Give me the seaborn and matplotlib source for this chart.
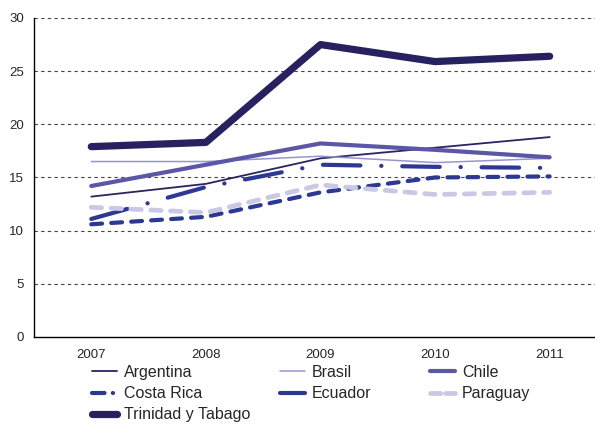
import pandas as pd
import numpy as np
import matplotlib
matplotlib.use("Agg")
import matplotlib.pyplot as plt
import seaborn as sns
from matplotlib.lines import Line2D

# data
years = [2007, 2008, 2009, 2010, 2011]
argentina = [13.2, 14.4, 16.8, 17.8, 18.8]
brasil = [16.5, 16.5, 17.0, 16.4, 16.8]
chile = [14.2, 16.2, 18.2, 17.6, 16.9]
costa_rica = [11.1, 14.1, 16.2, 16.0, 15.9]
ecuador = [10.6, 11.3, 13.6, 15.0, 15.1]
paraguay = [12.2, 11.7, 14.3, 13.4, 13.6]
trinidad = [17.9, 18.3, 27.5, 25.9, 26.4]

series = {
    "Argentina": argentina,
    "Brasil": brasil,
    "Chile": chile,
    "Costa Rica": costa_rica,
    "Ecuador": ecuador,
    "Paraguay": paraguay,
    "Trinidad y Tabago": trinidad,
}
rows = [(c, y, v) for c, vals in series.items() for y, v in zip(years, vals)]
df = pd.DataFrame(rows, columns=["country", "year", "value"])

styles = {
    "Argentina": dict(color="#2a2462", lw=1.3, ls="-"),
    "Brasil": dict(color="#9995cf", lw=1.1, ls="-"),
    "Chile": dict(color="#5b56a5", lw=3.0, ls="-"),
    "Costa Rica": dict(color="#2c3892", lw=3.0, ls=(0, (9, 5, 0.05, 5))),
    "Ecuador": dict(color="#2c3892", lw=3.0, ls=(0, (2.6, 2.2))),
    "Paraguay": dict(color="#cac8e4", lw=3.4, ls=(0, (2.2, 2.0))),
    "Trinidad y Tabago": dict(color="#27215f", lw=5.2, ls="-"),
}

sns.set_style("white")
plt.rcParams["font.family"] = ["Liberation Sans", "DejaVu Sans"]

fig = plt.figure(figsize=(5.95, 4.24), dpi=100)
ax = fig.add_axes([0.0571, 0.2052, 0.963, 0.7524])

for c in series:
    s = styles[c]
    sns.lineplot(data=df[df["country"] == c], x="year", y="value", ax=ax,
                 color=s["color"], linewidth=s["lw"], linestyle=s["ls"],
                 solid_capstyle="round", dash_capstyle="round",
                 errorbar=None, legend=False)

ax.set_xlim(2006.5, 2011.5)
ax.set_ylim(0, 30)
ax.set_yticks(range(0, 31, 5))
ax.set_xticks(years)
ax.set_xticks(np.arange(2007.5, 2011.5, 1.0), minor=True)
ax.tick_params(axis="x", which="major", length=0, labelsize=9.5, pad=9)
ax.tick_params(axis="x", which="minor", length=4, width=0.8, color="black", direction="out")
ax.tick_params(axis="y", length=4, width=0.8, color="black", direction="out", labelsize=9.5, pad=3)
ax.set_xlabel("")
ax.set_ylabel("")

for v in range(5, 31, 5):
    ax.axhline(v, color="#444444", lw=0.8, ls=(0, (3, 3)), zorder=0)

for side in ["top", "right"]:
    ax.spines[side].set_visible(False)
for side in ["left", "bottom"]:
    ax.spines[side].set_color("black")
    ax.spines[side].set_linewidth(1.0)

def proxy(c, dashes=None):
    s = styles[c]
    ln = Line2D([0], [0], color=s["color"], lw=s["lw"], solid_capstyle="round",
                dash_capstyle="round")
    if dashes is not None:
        ln.set_linestyle(dashes)
    return ln

cols = [
    (["Argentina", "Costa Rica", "Trinidad y Tabago"], 0.1546),
    (["Brasil", "Ecuador"], 0.4706),
    (["Chile", "Paraguay"], 0.7227),
]
legend_dash = {"Costa Rica": (0, (3, 2, 0.05, 2)), "Paraguay": (0, (2.2, 1.0)),
               "Ecuador": (0, (6, 1))}
for names, x0 in cols:
    handles = [proxy(n, legend_dash.get(n)) for n in names]
    fig.legend(handles, names, loc="upper left", bbox_to_anchor=(x0, 0.139),
               frameon=False, fontsize=11.5, handlelength=1.57, handletextpad=0.44,
               labelspacing=0.38, borderpad=0, borderaxespad=0)

fig.savefig("out.png", dpi=100)
